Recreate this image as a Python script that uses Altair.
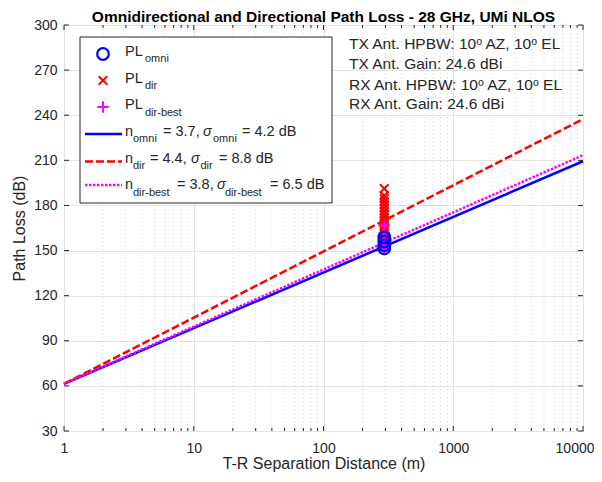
import altair as alt
import pandas as pd

# ---------------- data ----------------
line_d = [1, 10000]
pl_omni_line = [61.4, 209.4]   # n = 3.7
pl_dir_line = [61.4, 237.4]    # n = 4.4
pl_best_line = [61.4, 213.4]   # n = 3.8

omni_d = [294, 294, 294, 294]
omni_pl = [151.4, 153.5, 156.0, 158.7]

dir_d = [294] * 17
dir_pl = [191.2, 186.6, 184.6, 182.5, 180.4, 178.3, 176.2, 174.1, 172.0,
          170.0, 168.0, 166.0, 164.0, 162.0, 160.0, 157.5, 155.0]

best_d = [294] * 5
best_pl = [151.4, 154.0, 156.7, 161.5, 166.7]

x_ticks = [1, 10, 100, 1000, 10000]
y_ticks = [30, 60, 90, 120, 150, 180, 210, 240, 270, 300]
x_minor = [m * k for m in [1, 10, 100, 1000] for k in range(2, 10)]

TITLE = "Omnidirectional and Directional Path Loss - 28 GHz, UMi NLOS"

W, H = 519, 406
FONT = "Liberation Sans"
TXT = "#262626"

X = alt.X("d:Q", scale=alt.Scale(type="log", domain=[1, 10000]),
          axis=alt.Axis(values=x_ticks, format="d", title="T-R Separation Distance (m)",
                        grid=True, gridColor="#e3e3e3", ticks=False, domain=False,
                        labelFlush=False,
                        labelAlign={"condition": {"test": "datum.value >= 10000", "value": "right"},
                                    "value": "center"},
                        labelOffset={"condition": {"test": "datum.value >= 10000", "value": 11},
                                     "value": 0},
                        labelFontSize=14, titleFontSize=16, labelPadding=10,
                        titlePadding=0, labelColor=TXT, titleColor=TXT,
                        labelFont=FONT, titleFont=FONT, titleFontWeight="normal"))
Y = alt.Y("pl:Q", scale=alt.Scale(domain=[30, 300], nice=False, zero=False),
          axis=alt.Axis(values=y_ticks, title="Path Loss (dB)", grid=True,
                        gridColor="#e3e3e3", ticks=False, domain=False,
                        labelFontSize=14, titleFontSize=16, labelPadding=7,
                        titlePadding=6, labelColor=TXT, titleColor=TXT,
                        labelFont=FONT, titleFont=FONT, titleFontWeight="normal"))

lines_df = pd.concat([
    pd.DataFrame({"d": line_d, "pl": pl_omni_line, "s": "omni"}),
    pd.DataFrame({"d": line_d, "pl": pl_dir_line, "s": "dir"}),
    pd.DataFrame({"d": line_d, "pl": pl_best_line, "s": "best"}),
])

minor_df = pd.DataFrame({"d": x_minor})
xt_df = pd.DataFrame({"d": x_ticks})
yt_df = pd.DataFrame({"pl": y_ticks})

minor_grid = alt.Chart(minor_df).mark_rule(color="#d4d4d4", strokeDash=[1, 3], strokeWidth=1).encode(
    x=X, y=alt.value(0), y2=alt.value(H))

RED_DASH = [8, 3]
MAG_DOT = [2.5, 1.5]

def line(s, color, dash):
    kw = dict(color=color, strokeWidth=2.5)
    if dash:
        kw["strokeDash"] = dash
    return alt.Chart(lines_df[lines_df.s == s]).mark_line(**kw).encode(x=X, y=Y)

l_omni = line("omni", "#0000ff", None)
l_dir = line("dir", "#ff0000", RED_DASH)
l_best = line("best", "#ff00ff", MAG_DOT)

XSHAPE = "M-1,-1L1,1M1,-1L-1,1"
PSHAPE = "M-1,0L1,0M0,-1L0,1"
CIRC_SIZE, X_SIZE, P_SIZE = 135, 75, 130

p_omni = alt.Chart(pd.DataFrame({"d": omni_d, "pl": omni_pl})).mark_point(
    shape="circle", filled=False, color="#0000ff", strokeWidth=2.2, size=CIRC_SIZE, opacity=1).encode(x=X, y=Y)
p_dir = alt.Chart(pd.DataFrame({"d": dir_d, "pl": dir_pl})).mark_point(
    shape=XSHAPE, filled=False, color="#ff0000", strokeWidth=2, size=X_SIZE, opacity=1).encode(x=X, y=Y)
p_best = alt.Chart(pd.DataFrame({"d": best_d, "pl": best_pl})).mark_point(
    shape=PSHAPE, filled=False, color="#ff00ff", strokeWidth=2, size=P_SIZE, opacity=1).encode(x=X, y=Y)

# inward ticks
tick_c = TXT
xt_bot = alt.Chart(xt_df).mark_rule(color=tick_c).encode(x=X, y=alt.value(H), y2=alt.value(H - 5))
xt_top = alt.Chart(xt_df).mark_rule(color=tick_c).encode(x=X, y=alt.value(0), y2=alt.value(5))
xm_bot = alt.Chart(minor_df).mark_rule(color=tick_c).encode(x=X, y=alt.value(H), y2=alt.value(H - 3))
xm_top = alt.Chart(minor_df).mark_rule(color=tick_c).encode(x=X, y=alt.value(0), y2=alt.value(3))
yt_l = alt.Chart(yt_df).mark_rule(color=tick_c).encode(y=Y, x=alt.value(0), x2=alt.value(5))
yt_r = alt.Chart(yt_df).mark_rule(color=tick_c).encode(y=Y, x=alt.value(W), x2=alt.value(W - 5))

ONE = alt.Data(values=[{"a": 1}])

def txt(t, x, y, size=14.5, italic=False, bold=False, align="left", baseline="middle", color=TXT):
    return alt.Chart(ONE).mark_text(
        align=align, baseline=baseline, font=FONT, fontSize=size, color=color,
        fontWeight="bold" if bold else "normal",
        fontStyle="italic" if italic else "normal").encode(
        x=alt.value(x), y=alt.value(y), text=alt.value(t))

title_mark = txt(TITLE, W / 2, -3, 15.5, bold=True, align="center", baseline="alphabetic", color="black")

# legend box
box = alt.Chart(ONE).mark_rect(fill="white", stroke=TXT, strokeWidth=1).encode(
    x=alt.value(16), x2=alt.value(268), y=alt.value(12), y2=alt.value(178))

SUB = 11
leg = [box]
leg.append(alt.Chart(ONE).mark_point(shape="circle", filled=False, color="#0000ff", strokeWidth=2.2, size=CIRC_SIZE, opacity=1)
           .encode(x=alt.value(39), y=alt.value(29)))
leg.append(alt.Chart(ONE).mark_point(shape=XSHAPE, filled=False, color="#ff0000", strokeWidth=2, size=X_SIZE, opacity=1)
           .encode(x=alt.value(39), y=alt.value(55.5)))
leg.append(alt.Chart(ONE).mark_point(shape=PSHAPE, filled=False, color="#ff00ff", strokeWidth=2, size=P_SIZE, opacity=1)
           .encode(x=alt.value(39), y=alt.value(82)))
leg.append(alt.Chart(ONE).mark_rule(color="#0000ff", strokeWidth=2.5)
           .encode(x=alt.value(21), x2=alt.value(58), y=alt.value(109)))
leg.append(alt.Chart(ONE).mark_rule(color="#ff0000", strokeWidth=2.5, strokeDash=RED_DASH)
           .encode(x=alt.value(21), x2=alt.value(58), y=alt.value(136.5)))
leg.append(alt.Chart(ONE).mark_rule(color="#ff00ff", strokeWidth=2.5, strokeDash=MAG_DOT)
           .encode(x=alt.value(21), x2=alt.value(58), y=alt.value(160)))
leg += [txt("PL", 61, 26.5), txt("omni", 81, 34, SUB),
        txt("PL", 61, 53.5), txt("dir", 81, 61, SUB),
        txt("PL", 61, 79.5), txt("dir-best", 81, 87.5, SUB),
        txt("n", 61, 106.5), txt("omni", 69, 114, SUB), txt("= 3.7,", 99, 106.5),
        txt("σ", 139, 106.5, italic=True), txt("omni", 149, 114, SUB), txt("= 4.2 dB", 178, 106.5),
        txt("n", 61, 133.5), txt("dir", 69, 141, SUB), txt("= 4.4,", 86, 133.5),
        txt("σ", 127, 133.5, italic=True), txt("dir", 136.5, 141, SUB), txt("= 8.8 dB", 155, 133.5),
        txt("n", 61, 160), txt("dir-best", 69, 168, SUB), txt("= 3.8,", 113, 160),
        txt("σ", 153, 160, italic=True), txt("dir-best", 161, 168, SUB), txt("= 6.5 dB", 206, 160)]

ANN = 15.5
ann = [txt("TX Ant. HPBW: 10ᵒ AZ, 10ᵒ EL", 285, 19, ANN),
       txt("TX Ant. Gain: 24.6 dBi", 285, 39, ANN),
       txt("RX Ant. HPBW: 10ᵒ AZ, 10ᵒ EL", 285, 60, ANN),
       txt("RX Ant. Gain: 24.6 dBi", 285, 79, ANN)]

chart = alt.layer(
    minor_grid, l_omni, l_dir, l_best, p_dir, p_best, p_omni,
    xt_bot, xt_top, xm_bot, xm_top, yt_l, yt_r, *leg, *ann, title_mark
).properties(
    width=W, height=H,
    autosize=alt.AutoSizeParams(type="none"),
    padding={"left": 56, "top": 17, "right": 11, "bottom": 43},
).configure_view(stroke=TXT, strokeWidth=1)

chart.save("out.html", embed_options={"renderer": "svg", "actions": False})
